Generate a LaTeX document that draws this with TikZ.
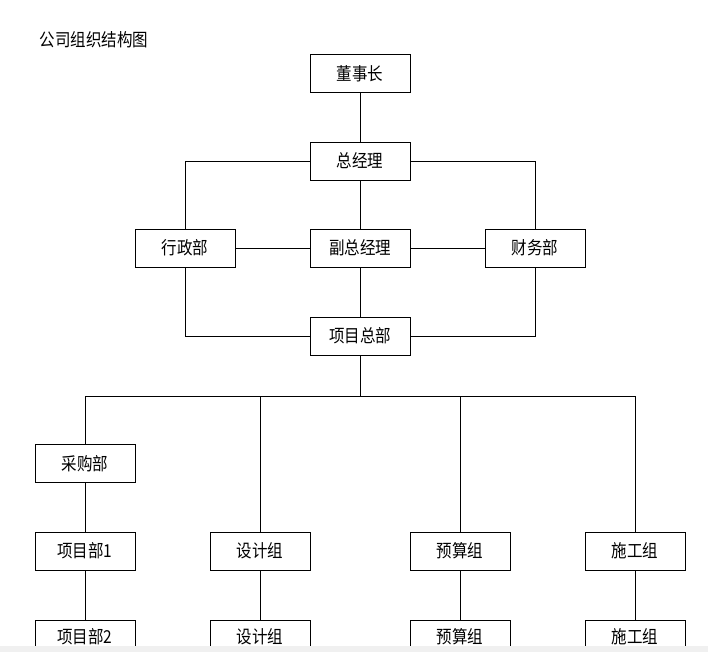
\documentclass[tikz,border=0pt]{standalone}
\usepackage{graphicx}
\usepackage{fontspec}
\setmainfont{Noto Sans CJK SC}
\newcommand{\tall}[1]{\scalebox{1}[1.15]{#1}}
\begin{document}
\begin{tikzpicture}[x=1pt,y=-1pt,
  box/.style={draw=black,line width=0.9pt,fill=white,minimum width=100pt,minimum height=38pt,inner sep=0pt,font=\fontsize{15.5}{18}\selectfont},
  conn/.style={line width=0.9pt,draw=black}]
\useasboundingbox (0,0) rectangle (708,652);
\fill[white] (0,0) rectangle (708,652);
\begin{scope}
\clip (0,0) rectangle (708,646);
\node[anchor=west,font=\fontsize{15.5}{18}\selectfont] (title) at (36,40) {\tall{公司组织结构图}};
\node[box] (dsz) at (360,73.5) {\tall{董事长}};
\node[box] (zjl) at (360,161) {\tall{总经理}};
\node[box] (xzb) at (185,248) {\tall{行政部}};
\node[box] (fzjl) at (360,248) {\tall{副总经理}};
\node[box] (cwb) at (535,248) {\tall{财务部}};
\node[box] (xmzb) at (360,336) {\tall{项目总部}};
\coordinate (bus) at (360,396);
\coordinate (b1) at (85,396);
\coordinate (b2) at (260,396);
\coordinate (b3) at (460,396);
\coordinate (b4) at (635,396);
\node[box] (cgb) at (85,463.5) {\tall{采购部}};
\node[box] (xmb1) at (85,551) {\tall{项目部1}};
\node[box] (sjz1) at (260,551) {\tall{设计组}};
\node[box] (ysz1) at (460,551) {\tall{预算组}};
\node[box] (sgz1) at (635,551) {\tall{施工组}};
\node[box,text depth=6pt] (xmb2) at (85,639) {\tall{项目部2}};
\node[box,text depth=6pt] (sjz2) at (260,639) {\tall{设计组}};
\node[box,text depth=6pt] (ysz2) at (460,639) {\tall{预算组}};
\node[box,text depth=6pt] (sgz2) at (635,639) {\tall{施工组}};
\draw[conn] (dsz) -- (zjl);
\draw[conn] (zjl) -- (fzjl);
\draw[conn] (fzjl) -- (xmzb);
\draw[conn] (zjl.west) -| (xzb.north);
\draw[conn] (zjl.east) -| (cwb.north);
\draw[conn] (xzb) -- (fzjl);
\draw[conn] (fzjl) -- (cwb);
\draw[conn] (xzb.south) |- (xmzb.west);
\draw[conn] (cwb.south) |- (xmzb.east);
\draw[conn] (xmzb.south) -- (bus);
\draw[conn] (b1) -- (b4);
\draw[conn] (b1) -- (cgb.north);
\draw[conn] (b2) -- (sjz1.north);
\draw[conn] (b3) -- (ysz1.north);
\draw[conn] (b4) -- (sgz1.north);
\draw[conn] (cgb) -- (xmb1);
\draw[conn] (xmb1) -- (xmb2);
\draw[conn] (sjz1) -- (sjz2);
\draw[conn] (ysz1) -- (ysz2);
\draw[conn] (sgz1) -- (sgz2);
\end{scope}
\fill[black!6] (0,646) rectangle (708,652);
\end{tikzpicture}
\end{document}
